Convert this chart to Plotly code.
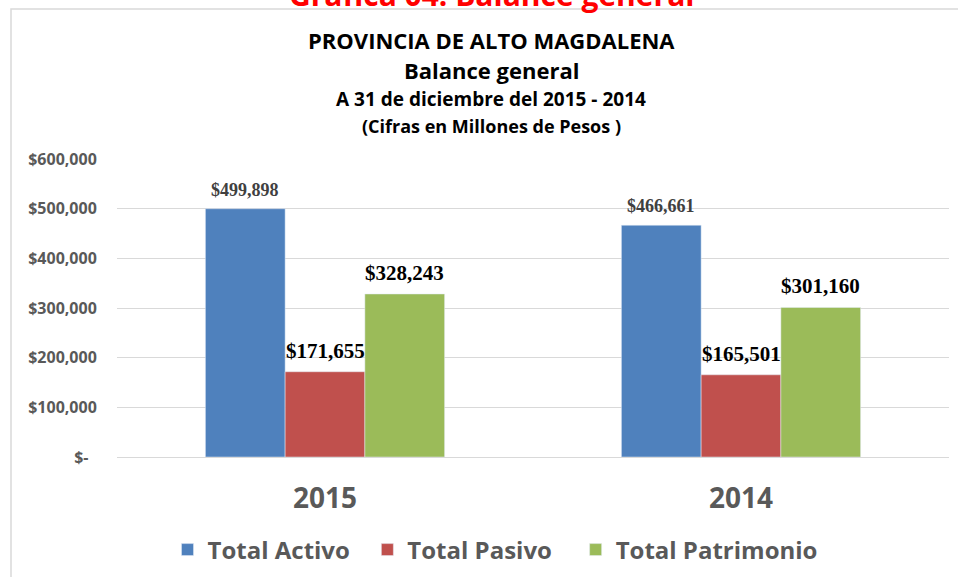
import plotly.graph_objects as go

categories = ["2015", "2014"]
series_names = ["Total Activo", "Total Pasivo", "Total Patrimonio"]
total_activo = [499898, 466661]
total_pasivo = [171655, 165501]
total_patrimonio = [328243, 301160]
tick_values = [0, 100000, 200000, 300000, 400000, 500000, 600000]
tick_labels = ["$-\u00a0\u00a0", "$100,000", "$200,000", "$300,000", "$400,000", "$500,000", "$600,000"]

series_values = [total_activo, total_pasivo, total_patrimonio]
colors = ["#4F81BD", "#C0504D", "#9BBB59"]
label_colors = ["#404040", "#000000", "#000000"]
label_sizes = [18, 21, 21]
legend_pad = ["\u00a0\u00a0", "\u00a0\u00a0\u00a0", ""]

SANS = "Open Sans, Lato, sans-serif"
SERIF = "Liberation Serif, Times New Roman, serif"

W, H = 958, 577
ML, MR, MT, MB = 117, 9, 159, 120
PW = W - ML - MR
PH = H - MT - MB
BARGAP = 0.425

def px_x(px):
    return (px - ML) / PW

def px_y(py):
    return (H - MB - py) / PH

fig = go.Figure()
for name, vals, col, pad in zip(series_names, series_values, colors, legend_pad):
    fig.add_trace(go.Bar(
        x=categories, y=vals, name=name + pad,
        marker_color=col,
    ))

# data labels
band = PW / len(categories)
bw = band * (1 - BARGAP) / len(series_names)
annotations = []
for i, vals in enumerate(series_values):
    for j, v in enumerate(vals):
        annotations.append(dict(
            x=j, y=v, xref="x", yref="y",
            text=f"${v:,}", showarrow=False,
            xanchor="center", yanchor="bottom",
            xshift=(i - 1) * bw, yshift=7,
            font=dict(family=SERIF, size=label_sizes[i], color=label_colors[i], weight="bold"),
        ))

titles = [
    ("Gráfica 04. Balance general", -6, 30, "#FF0000"),
    ("PROVINCIA DE ALTO MAGDALENA", 40, 22, "#000000"),
    ("Balance general", 70, 22, "#000000"),
    ("A 31 de diciembre del 2015 - 2014", 99, 19, "#000000"),
    ("(Cifras en Millones de Pesos )", 126, 18, "#000000"),
]
for txt, py, size, col in titles:
    annotations.append(dict(
        x=px_x(491), y=px_y(py), xref="paper", yref="paper",
        text=txt, showarrow=False,
        xanchor="center", yanchor="middle",
        font=dict(family=SANS, size=size, color=col, weight="bold"),
    ))

fig.update_layout(
    width=W, height=H,
    margin=dict(l=ML, r=MR, t=MT, b=MB, pad=0, autoexpand=False),
    paper_bgcolor="#FFFFFF", plot_bgcolor="#FFFFFF",
    barmode="group", bargap=BARGAP, bargroupgap=0,
    showlegend=True,
    legend=dict(
        orientation="h", x=px_x(495), y=px_y(550),
        xanchor="center", yanchor="middle",
        font=dict(family=SANS, size=24, color="#595959", weight="bold"),
        traceorder="normal",
    ),
    annotations=annotations,
    shapes=[dict(
        type="rect", xref="paper", yref="paper",
        x0=px_x(11), x1=px_x(970), y0=px_y(590), y1=px_y(9),
        line=dict(color="#D9D9D9", width=1.5),
    )],
    xaxis=dict(
        type="category",
        showgrid=False, showline=False, zeroline=False,
        ticks="outside", ticklen=16, tickcolor="rgba(0,0,0,0)",
        tickfont=dict(family=SANS, size=28, color="#595959", weight="bold"),
    ),
    yaxis=dict(
        range=[0, 600000], tickvals=tick_values,
        ticktext=tick_labels,
        showgrid=True, gridcolor="#D9D9D9", gridwidth=1,
        zeroline=True, zerolinecolor="#D9D9D9", zerolinewidth=1,
        showline=False,
        ticks="outside", ticklen=16, tickcolor="rgba(0,0,0,0)",
        tickfont=dict(family=SANS, size=16, color="#595959", weight="bold"),
    ),
)

fig.write_html("out.html", config={"displayModeBar": False},
               post_script="document.body.style.margin='0px';")
